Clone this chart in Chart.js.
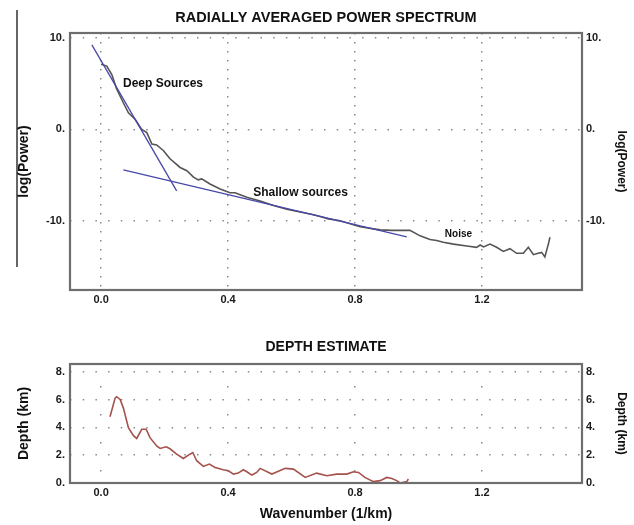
<!DOCTYPE html>
<html>
<head>
<meta charset="utf-8">
<script src="https://cdn.jsdelivr.net/npm/chart.js@4.4.1/dist/chart.umd.min.js"></script>
<style>
  html, body { margin: 0; padding: 0; background: #ffffff; }
  #wrap { position: relative; width: 634px; height: 525px; overflow: hidden; }
  canvas { position: absolute; left: 0; }
  #top { top: 0; }
  #bottom { top: 310px; }
</style>
</head>
<body>
<div id="wrap">
  <canvas id="top" width="634" height="310"></canvas>
  <canvas id="bottom" width="634" height="215"></canvas>
</div>
<script>
// ---- Data ----
const specK = [0.000,0.018,0.034,0.049,0.070,0.086,0.107,0.128,0.144,0.160,0.175,0.196,0.217,0.249,0.270,0.291,0.306,0.317,0.343,0.375,0.406,0.422,0.432,0.459,0.501,0.543,0.585,0.627,0.669,0.690,0.716,0.753,0.816,0.879,0.916,0.942,0.973,1.005,1.036,1.057,1.078,1.110,1.152,1.183,1.194,1.205,1.225,1.246,1.267,1.288,1.309,1.330,1.346,1.362,1.377,1.388,1.398,1.409,1.414];
const specLogP = [7.1,6.9,5.95,4.4,2.9,1.8,1.1,0.0,-0.35,-1.6,-1.7,-2.3,-3.2,-4.15,-4.5,-5.2,-5.5,-5.4,-5.95,-6.5,-6.9,-6.9,-7.05,-7.4,-7.8,-8.3,-8.7,-9.0,-9.3,-9.5,-9.75,-9.95,-10.6,-10.95,-11.0,-11.0,-11.0,-11.6,-12.0,-12.1,-12.3,-12.5,-12.7,-12.85,-12.6,-12.8,-12.5,-12.85,-13.3,-13.0,-13.5,-13.5,-12.85,-13.65,-13.5,-13.4,-13.9,-12.5,-11.75];

const deepFitK = [-0.029, 0.238];
const deepFitP = [9.2, -6.7];
const shallowFitK = [0.070, 0.963];
const shallowFitP = [-4.4, -11.7];

const depthK = [0.028,0.044,0.049,0.060,0.070,0.086,0.102,0.112,0.128,0.142,0.154,0.175,0.186,0.205,0.217,0.238,0.259,0.280,0.289,0.301,0.322,0.341,0.359,0.385,0.401,0.417,0.432,0.448,0.459,0.475,0.490,0.501,0.538,0.580,0.606,0.643,0.679,0.711,0.742,0.774,0.795,0.811,0.831,0.858,0.879,0.900,0.916,0.931,0.942,0.963,0.968];
const depthKm = [4.76,6.1,6.2,6.0,5.4,3.98,3.4,3.2,3.86,3.86,3.26,2.66,2.48,2.6,2.46,2.07,1.76,2.07,2.19,1.6,1.19,1.36,1.12,0.95,0.88,0.64,0.71,0.95,0.81,0.57,0.76,1.05,0.64,1.05,1.0,0.4,0.71,0.52,0.64,0.64,0.81,0.76,0.4,0.1,0.17,0.4,0.33,0.17,0.0,0.1,0.29];

const annotationLabels = ['Deep Sources', 'Shallow sources', 'Noise'];
const annotationK = [0.069, 0.479, 1.083];
const annotationP = [4.95, -6.9, -11.45];

const xTicks = [0.0, 0.4, 0.8, 1.2];
const powerTicks = [-10, 0, 10];
const depthTicks = [0, 2, 4, 6, 8];

// ---- Styling ----
const FONT = "'Liberation Sans', Arial, Helvetica, sans-serif";
const TXT = '#1a1a1a';
const GRID = '#8a8a8a';

const toXY = (xs, ys) => xs.map((x, i) => ({ x: x, y: ys[i] }));
const setTicks = arr => (s => { s.ticks = arr.map(v => ({ value: v })); });

const frame = {
  id: 'frame',
  afterDraw(chart) {
    const a = chart.chartArea, ctx = chart.ctx;
    ctx.save();
    ctx.strokeStyle = '#6e6e6e';
    ctx.lineWidth = 2.2;
    ctx.strokeRect(a.left, a.top, a.right - a.left, a.bottom - a.top);
    ctx.restore();
  }
};

const annotate = {
  id: 'annotate',
  afterDatasetsDraw(chart) {
    const ctx = chart.ctx, xs = chart.scales.x, ys = chart.scales.y;
    const sizes = [12, 12, 10];
    ctx.save();
    ctx.fillStyle = '#111';
    ctx.textBaseline = 'middle';
    ctx.textAlign = 'left';
    annotationLabels.forEach((t, i) => {
      ctx.font = 'bold ' + sizes[i] + 'px ' + FONT;
      ctx.fillText(t, xs.getPixelForValue(annotationK[i]), ys.getPixelForValue(annotationP[i]));
    });
    ctx.restore();
  }
};

// decorative rule next to the left axis title (present in the reference)
const leftRule = {
  id: 'leftRule',
  afterDraw(chart) {
    const ctx = chart.ctx;
    ctx.save();
    ctx.strokeStyle = '#333';
    ctx.lineWidth = 1.5;
    ctx.beginPath();
    ctx.moveTo(17, 10);
    ctx.lineTo(17, 267);
    ctx.stroke();
    ctx.restore();
  }
};

function baseX(height, dash, dashOffset) {
  return {
    type: 'linear', position: 'bottom', min: -0.098, max: 1.515,
    afterBuildTicks: setTicks(xTicks),
    afterFit: s => { s.height = height; },
    border: { display: false, dash: dash, dashOffset: dashOffset },
    grid: { color: GRID, lineWidth: 1.5, drawTicks: false },
    ticks: { padding: 3, color: TXT, font: { family: FONT, size: 11, weight: 'bold' },
             callback: v => Number(v).toFixed(1), maxRotation: 0, autoSkip: false }
  };
}

// ---- Top chart: power spectrum ----
const xTop = baseX(20, [1.5, 7.5], 0);

new Chart(document.getElementById('top'), {
  type: 'line',
  data: {
    datasets: [
      { data: toXY(deepFitK, deepFitP), borderColor: '#4848a8', borderWidth: 1.3, pointRadius: 0, order: 0 },
      { data: toXY(shallowFitK, shallowFitP), borderColor: '#4848a8', borderWidth: 1.3, pointRadius: 0, order: 0 },
      { data: toXY(specK, specLogP), borderColor: '#555555', borderWidth: 1.6, pointRadius: 0, order: 1 }
    ]
  },
  options: {
    responsive: false, animation: false, devicePixelRatio: 1,
    layout: { padding: 0 },
    plugins: {
      legend: { display: false }, tooltip: { enabled: false },
      title: { display: true, text: 'RADIALLY AVERAGED POWER SPECTRUM', fullSize: false,
               color: '#111', font: { family: FONT, size: 14.5, weight: 'bold', lineHeight: 1 },
               padding: { top: 11, bottom: 7.5 } }
    },
    scales: {
      x: xTop,
      y: {
        type: 'linear', position: 'left', min: -17.5, max: 10.5,
        afterBuildTicks: setTicks(powerTicks),
        afterFit: s => { s.width = 70; },
        border: { display: false, dash: [1.5, 11.2], dashOffset: 0 },
        grid: { color: GRID, lineWidth: 1.5, drawTicks: false },
        ticks: { padding: 5, color: TXT, font: { family: FONT, size: 11, weight: 'bold' }, callback: v => v + '.' },
        title: { display: true, text: 'log(Power)', color: '#111', font: { family: FONT, size: 14, weight: 'bold' }, padding: { top: 16 } }
      },
      y2: {
        type: 'linear', position: 'right', min: -17.5, max: 10.5,
        afterBuildTicks: setTicks(powerTicks),
        afterFit: s => { s.width = 52; },
        border: { display: false },
        grid: { display: false, drawTicks: false },
        ticks: { padding: 4, color: TXT, font: { family: FONT, size: 11, weight: 'bold' }, callback: v => v + '.' },
        title: { display: true, text: 'log(Power)', color: '#111', font: { family: FONT, size: 12, weight: 'bold' }, padding: { top: 5.5 } }
      }
    }
  },
  plugins: [frame, annotate, leftRule]
});

// ---- Bottom chart: depth estimate ----
const xBot = baseX(42, [1.5, 26.5], 6);
xBot.title = { display: true, text: 'Wavenumber (1/km)', color: '#111',
               font: { family: FONT, size: 14, weight: 'bold' }, padding: { top: 0, bottom: 2 } };

new Chart(document.getElementById('bottom'), {
  type: 'line',
  data: {
    datasets: [
      { data: toXY(depthK, depthKm), borderColor: '#a5524d', borderWidth: 1.6, pointRadius: 0 }
    ]
  },
  options: {
    responsive: false, animation: false, devicePixelRatio: 1,
    layout: { padding: 0 },
    plugins: {
      legend: { display: false }, tooltip: { enabled: false },
      title: { display: true, text: 'DEPTH ESTIMATE', fullSize: false,
               color: '#111', font: { family: FONT, size: 14, weight: 'bold', lineHeight: 1 },
               padding: { top: 30, bottom: 10 } }
    },
    scales: {
      x: xBot,
      y: {
        type: 'linear', position: 'left', min: 0, max: 8.55,
        afterBuildTicks: setTicks(depthTicks),
        afterFit: s => { s.width = 70; },
        border: { display: false, dash: [1.5, 11.2], dashOffset: 0 },
        grid: { color: GRID, lineWidth: 1.5, drawTicks: false },
        ticks: { padding: 5, color: TXT, font: { family: FONT, size: 11, weight: 'bold' }, callback: v => v + '.' },
        title: { display: true, text: 'Depth (km)', color: '#111', font: { family: FONT, size: 14, weight: 'bold' }, padding: { top: 16 } }
      },
      y2: {
        type: 'linear', position: 'right', min: 0, max: 8.55,
        afterBuildTicks: setTicks(depthTicks),
        afterFit: s => { s.width = 52; },
        border: { display: false },
        grid: { display: false, drawTicks: false },
        ticks: { padding: 4, color: TXT, font: { family: FONT, size: 11, weight: 'bold' }, callback: v => v + '.' },
        title: { display: true, text: 'Depth (km)', color: '#111', font: { family: FONT, size: 12, weight: 'bold' }, padding: { top: 5.5 } }
      }
    }
  },
  plugins: [frame]
});
</script>
</body>
</html>
